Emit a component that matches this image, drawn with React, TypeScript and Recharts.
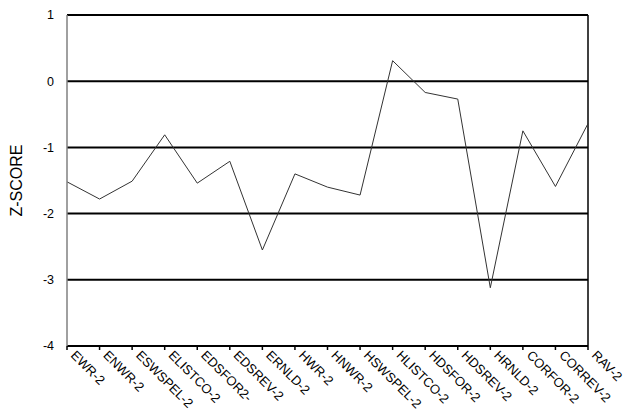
import React from 'react';
import { LineChart, Line, XAxis, YAxis, CartesianGrid, ReferenceLine, Label } from 'recharts';

const categories = ['EWR-2', 'ENWR-2', 'ESWSPEL-2', 'ELISTCO-2', 'EDSFOR2-', 'EDSREV-2', 'ERNLD-2', 'HWR-2', 'HNWR-2', 'HSWSPEL-2', 'HLISTCO-2', 'HDSFOR-2', 'HDSREV-2', 'HRNLD-2', 'CORFOR-2', 'CORREV-2', 'RAV-2'];
const zScores = [-1.52, -1.78, -1.51, -0.81, -1.54, -1.21, -2.55, -1.40, -1.60, -1.72, 0.31, -0.17, -0.27, -3.12, -0.75, -1.59, -0.64];
const yTicks = [-4, -3, -2, -1, 0, 1];

const data = categories.map((c, i) => ({ name: c, z: zScores[i] }));

const FONT = 'Liberation Sans, Arial, sans-serif';

const XTick = (props: any) => {
  const { x, y, payload } = props;
  const tx = x + 3;
  const ty = y + 4;
  return (
    <text x={tx} y={ty} transform={`rotate(45, ${tx}, ${ty})`} textAnchor="start" fontSize={13} fontFamily={FONT} fill="#000">
      {payload.value}
    </text>
  );
};

const YLabel = (props: any) => {
  const { viewBox } = props;
  const cx = viewBox.x + 16;
  const cy = viewBox.y + viewBox.height / 2;
  return (
    <text x={cx} y={cy} transform={`rotate(-90, ${cx}, ${cy})`} textAnchor="middle" dominantBaseline="central" fontSize={16} fontFamily={FONT} fill="#000">
      Z-SCORE
    </text>
  );
};

export default function App() {
  return (
    <div style={{ position: 'absolute', left: 0, top: 0, width: 640, height: 413, background: '#fff' }}>
      <LineChart width={640} height={413} data={data} margin={{ top: 15, right: 52, bottom: 0, left: 0 }}>
        <CartesianGrid vertical={false} stroke="#000" strokeWidth={2} />
        <XAxis
          dataKey="name"
          interval={0}
          height={67}
          tick={<XTick />}
          tickSize={4}
          tickMargin={2}
          axisLine={{ stroke: '#000', strokeWidth: 2 }}
          tickLine={{ stroke: '#000', strokeWidth: 1.5 }}
        />
        <YAxis
          domain={[-4, 1]}
          ticks={yTicks}
          type="number"
          width={67}
          tickLine={false}
          tickMargin={7}
          axisLine={{ stroke: '#808080', strokeWidth: 1.5 }}
          tick={{ fontSize: 12.5, fontFamily: FONT, fill: '#000' }}
        >
          <Label content={<YLabel />} />
        </YAxis>
        <ReferenceLine x="RAV-2" stroke="#000" strokeWidth={1.5} />
        <Line type="linear" dataKey="z" stroke="#333" strokeWidth={1} dot={false} isAnimationActive={false} />
      </LineChart>
    </div>
  );
}
